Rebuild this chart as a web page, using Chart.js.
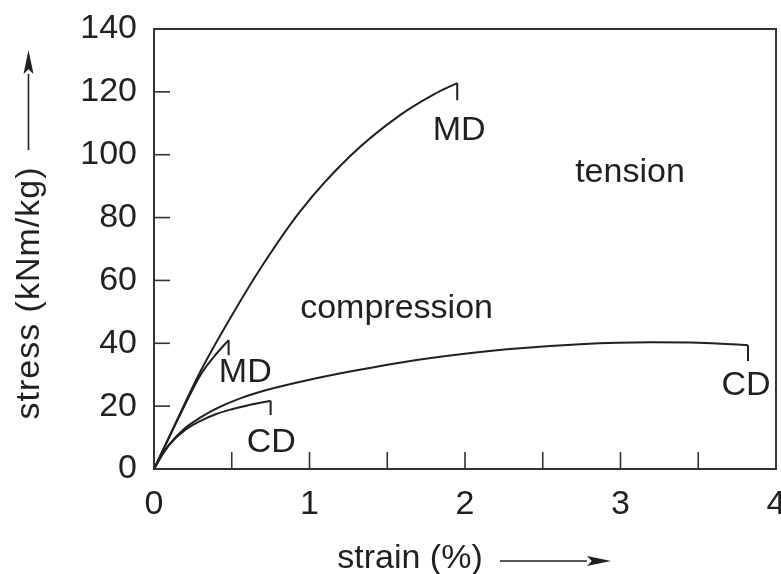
<!DOCTYPE html>
<html>
<head>
<meta charset="utf-8">
<script src="https://cdn.jsdelivr.net/npm/chart.js@4.4.1/dist/chart.umd.min.js"></script>
<style>
  html, body { margin: 0; padding: 0; background: #fff; }
  #wrap { width: 781px; height: 574px; }
</style>
</head>
<body>
<div id="wrap"><canvas id="myChart" width="781" height="574"></canvas></div>
<script>
// stress (kNm/kg) vs strain (%)
var tensionMD_x = [0, 0.15, 0.30, 0.49, 0.70, 0.94, 1.26, 1.58, 1.80, 1.95];
var tensionMD_y = [0, 15.8, 31.2, 48.0, 65.0, 82.0, 99.5, 112.5, 119.2, 122.8];

var compMD_x = [0, 0.10, 0.20, 0.30, 0.39, 0.48];
var compMD_y = [0, 10.3, 20.5, 30.0, 36.0, 41.0];

var tensionCD_x = [0, 0.05, 0.10, 0.19, 0.30, 0.40, 0.55, 0.73, 1.00, 1.26, 1.55, 1.84, 2.27, 2.74, 3.20, 3.50, 3.82];
var tensionCD_y = [0, 4.3, 7.9, 12.6, 16.4, 19.2, 22.4, 25.2, 28.4, 31.0, 33.6, 35.7, 38.1, 39.7, 40.3, 40.2, 39.4];

var compCD_x = [0, 0.05, 0.10, 0.20, 0.30, 0.40, 0.50, 0.60, 0.75];
var compCD_y = [0, 4.3, 7.8, 12.4, 15.3, 17.5, 19.0, 20.2, 21.7];

// where the little end mark drops to, one per curve
var endDrop = [117.3, 36.2, 34.4, 17.2];

var xTicks = [0, 1, 2, 3, 4];
var yTicks = [0, 20, 40, 60, 80, 100, 120, 140];

var notes = [
    {text: "MD", x: 1.962, y: 104.7},
    {text: "tension", x: 3.061, y: 91.3},
    {text: "compression", x: 1.56, y: 48.0},
    {text: "MD", x: 0.587, y: 27.7},
    {text: "CD", x: 0.754, y: 5.4},
    {text: "CD", x: 3.807, y: 23.5}
];

var INK = "#231f20";
var FAMILY = "'Liberation Sans', Arial, sans-serif";
var FONT = "34px " + FAMILY;

function _map(arr, fn){
    var out = [];
    for (var i = 0; i < arr.length; i++) out.push(fn(arr[i], i));
    return out;
}
function pts(xs, ys){
    return _map(xs, function(x, i){ return {x: x, y: ys[i]} });
}

var curves = [
    [tensionMD_x, tensionMD_y],
    [compMD_x, compMD_y],
    [tensionCD_x, tensionCD_y],
    [compCD_x, compCD_y]
];

var datasets = [];
curves.forEach(function(c, i){
    datasets.push({
        data: pts(c[0], c[1]),
        showLine: true,
        borderColor: INK,
        borderWidth: 2,
        pointRadius: 0,
        cubicInterpolationMode: "monotone",
        fill: false
    });
    var lx = c[0][c[0].length - 1], ly = c[1][c[1].length - 1];
    datasets.push({
        data: [{x: lx, y: ly}, {x: lx, y: endDrop[i]}],
        showLine: true,
        borderColor: INK,
        borderWidth: 2,
        pointRadius: 0,
        tension: 0,
        fill: false
    });
});

function arrow(ctx, x1, y1, x2, y2){
    var a = Math.atan2(y2 - y1, x2 - x1);
    var hl = 24, hw = 5;
    var c = Math.cos(a), s = Math.sin(a);
    ctx.beginPath();
    ctx.moveTo(x1, y1);
    ctx.lineTo(x2 - c * hl, y2 - s * hl);
    ctx.stroke();
    ctx.beginPath();
    ctx.moveTo(x2, y2);
    ctx.lineTo(x2 - c * hl - s * hw, y2 - s * hl + c * hw);
    ctx.lineTo(x2 - c * hl * 0.8, y2 - s * hl * 0.8);
    ctx.lineTo(x2 - c * hl + s * hw, y2 - s * hl - c * hw);
    ctx.closePath();
    ctx.fill();
}

var framePlugin = {
    id: "frame",
    afterDraw: function(chart){
        var ctx = chart.ctx, a = chart.chartArea;
        var xs = chart.scales.x, ys = chart.scales.y;
        ctx.save();
        ctx.strokeStyle = "#333";
        ctx.fillStyle = INK;
        ctx.lineWidth = 2;
        ctx.strokeRect(a.left, a.top, a.right - a.left, a.bottom - a.top);

        // inward ticks
        ctx.lineWidth = 1.6;
        for (var v = 0.5; v < 4; v += 0.5){
            var px = xs.getPixelForValue(v);
            ctx.beginPath(); ctx.moveTo(px, a.bottom); ctx.lineTo(px, a.bottom - 17); ctx.stroke();
        }
        yTicks.forEach(function(t){
            if (t == 0 || t == 140) return;
            var py = ys.getPixelForValue(t);
            ctx.beginPath(); ctx.moveTo(a.left, py); ctx.lineTo(a.left + 16, py); ctx.stroke();
        });

        // labels inside the plot
        ctx.font = FONT;
        ctx.textAlign = "center";
        ctx.textBaseline = "alphabetic";
        notes.forEach(function(n){
            ctx.fillText(n.text, xs.getPixelForValue(n.x), ys.getPixelForValue(n.y));
        });

        // axis titles with arrows
        ctx.fillText("strain (%)", 410, 568);
        ctx.lineWidth = 1.6;
        ctx.strokeStyle = INK;
        arrow(ctx, 500, 561, 611, 561);

        ctx.save();
        ctx.translate(30, 293);
        ctx.rotate(-Math.PI / 2);
        ctx.textBaseline = "middle";
        ctx.letterSpacing = "1px";
        ctx.fillText("stress (kNm/kg)", 0, 0);
        ctx.restore();
        arrow(ctx, 28.5, 150, 28.5, 50);
        ctx.restore();
    }
};

function noPad(s){
    s.paddingLeft = 0; s.paddingRight = 0; s.paddingTop = 0; s.paddingBottom = 0;
}

var ctx = document.getElementById("myChart").getContext("2d");
var stressChart = new Chart(ctx, {
    type: "scatter",
    data: {datasets: datasets},
    plugins: [framePlugin],
    options: {
        responsive: false,
        animation: false,
        layout: {padding: {top: 29, right: 5, left: 0, bottom: 0}},
        plugins: {legend: {display: false}, tooltip: {enabled: false}},
        scales: {
            x: {
                type: "linear",
                min: 0, max: 4,
                afterBuildTicks: function(s){ s.ticks = _map(xTicks, function(v){ return {value: v} }) },
                afterFit: function(s){ s.height = 105; noPad(s) },
                grid: {display: false, drawTicks: false},
                border: {display: false},
                ticks: {color: INK, font: {family: FAMILY, size: 34}, padding: 15, maxRotation: 0, autoSkip: false}
            },
            y: {
                type: "linear",
                min: 0, max: 140,
                afterBuildTicks: function(s){ s.ticks = _map(yTicks, function(v){ return {value: v} }) },
                afterFit: function(s){ s.width = 154; noPad(s) },
                grid: {display: false, drawTicks: false},
                border: {display: false},
                ticks: {color: INK, font: {family: FAMILY, size: 34}, padding: 17, autoSkip: false}
            }
        }
    }
});
</script>
</body>
</html>
